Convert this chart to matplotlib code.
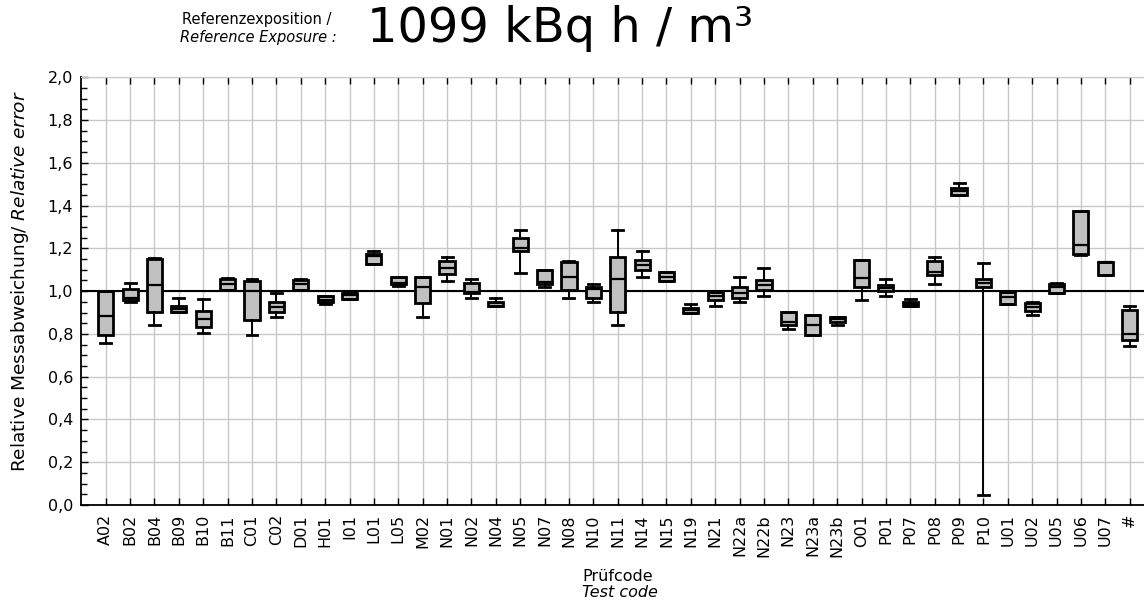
import matplotlib
matplotlib.use('Agg')
import matplotlib.pyplot as plt
from matplotlib.ticker import MultipleLocator, FixedLocator

plt.rcParams['font.family'] = ['DejaVu Sans']
plt.rcParams['mathtext.fontset'] = 'custom'
plt.rcParams['mathtext.rm'] = 'DejaVu Sans'
plt.rcParams['mathtext.it'] = 'DejaVu Sans:italic'

# box statistics
codes = ["A02", "B02", "B04", "B09", "B10", "B11", "C01", "C02", "D01", "H01",
         "I01", "L01", "L05", "M02", "N01", "N02", "N04", "N05", "N07", "N08",
         "N10", "N11", "N14", "N15", "N19", "N21", "N22a", "N22b", "N23", "N23a",
         "N23b", "O01", "P01", "P07", "P08", "P09", "P10", "U01", "U02", "U05",
         "U06", "U07", "#"]
whislo = [0.759, 0.948, 0.840, 0.901, 0.802, 1.005, 0.793, 0.881, 1.005, 0.941,
          0.961, 1.128, 1.026, 0.881, 1.049, 0.969, 0.932, 1.086, 1.019, 0.969,
          0.948, 0.840, 1.066, 1.048, 0.900, 0.931, 0.948, 0.977, 0.821, 0.796,
          0.840, 0.960, 0.978, 0.932, 1.035, 1.451, 0.045, 0.938, 0.889, 0.992,
          1.168, 1.077, 0.742]
q1 = [0.793, 0.957, 0.901, 0.901, 0.830, 1.005, 0.867, 0.901, 1.005, 0.948,
      0.961, 1.128, 1.035, 0.946, 1.079, 0.989, 0.932, 1.187, 1.035, 1.005,
      0.969, 0.901, 1.100, 1.048, 0.900, 0.958, 0.969, 1.006, 0.840, 0.796,
      0.855, 1.019, 1.000, 0.932, 1.077, 1.451, 1.019, 0.938, 0.909, 0.992,
      1.174, 1.077, 0.772]
med = [0.883, 0.967, 1.029, 0.915, 0.869, 1.035, 1.000, 0.927, 1.032, 0.958,
       0.980, 1.164, 1.040, 1.019, 1.108, 0.995, 0.943, 1.202, 1.043, 1.066,
       1.008, 1.057, 1.123, 1.068, 0.912, 0.977, 0.992, 1.031, 0.858, 0.843,
       0.870, 1.063, 1.014, 0.941, 1.090, 1.470, 1.039, 0.974, 0.927, 1.020,
       1.218, 1.134, 0.801]
q3 = [1.000, 1.009, 1.148, 0.932, 0.909, 1.057, 1.049, 0.948, 1.051, 0.977,
      0.991, 1.174, 1.066, 1.066, 1.140, 1.037, 0.951, 1.247, 1.100, 1.136,
      1.019, 1.159, 1.147, 1.088, 0.920, 0.995, 1.020, 1.051, 0.901, 0.889,
      0.881, 1.144, 1.028, 0.951, 1.139, 1.483, 1.059, 0.994, 0.943, 1.035,
      1.377, 1.137, 0.910]
whishi = [1.000, 1.037, 1.157, 0.969, 0.961, 1.060, 1.057, 0.992, 1.057, 0.977,
          0.991, 1.188, 1.066, 1.066, 1.159, 1.057, 0.969, 1.284, 1.100, 1.139,
          1.034, 1.284, 1.188, 1.088, 0.940, 0.995, 1.066, 1.108, 0.901, 0.889,
          0.881, 1.147, 1.059, 0.961, 1.159, 1.505, 1.130, 0.994, 0.951, 1.038,
          1.377, 1.137, 0.932]

stats = []
for i, c in enumerate(codes):
    stats.append({'label': c, 'whislo': whislo[i], 'q1': q1[i], 'med': med[i],
                  'q3': q3[i], 'whishi': whishi[i], 'fliers': []})

fig = plt.figure(figsize=(11.44, 6.08), dpi=100)
ax = fig.add_axes([0.0711, 0.1694, 0.9377, 0.7035])

positions = list(range(1, len(codes) + 1))
ax.bxp(stats, positions=positions, widths=0.62, patch_artist=True,
       showfliers=False, capwidths=0.45,
       boxprops=dict(facecolor='#c0c0c0', edgecolor='black', linewidth=2.0),
       medianprops=dict(color='black', linewidth=1.6),
       whiskerprops=dict(color='black', linewidth=1.4),
       capprops=dict(color='black', linewidth=2.0),
       zorder=3)

ax.axhline(1.0, color='black', linewidth=1.5, zorder=2)

ax.set_xlim(0, 44)
ax.set_ylim(0, 2.0)
ax.xaxis.set_major_locator(FixedLocator(positions))
ax.set_xticklabels(codes, rotation=90, fontsize=11.5)
ax.yaxis.set_major_locator(MultipleLocator(0.2))
ax.yaxis.set_minor_locator(MultipleLocator(0.05))
ax.set_yticklabels([f"{v:.1f}".replace('.', ',') for v in ax.get_yticks()], fontsize=11.5)

ax.grid(True, which='major', color='#c8c8c8', linewidth=1.0, zorder=0)
ax.set_axisbelow(True)
ax.tick_params(axis='y', which='major', direction='in', length=5, width=1, pad=6)
ax.tick_params(axis='y', which='minor', direction='in', length=4, width=1)
ax.tick_params(axis='x', which='major', direction='in', length=5, width=1,
               top=True, pad=6.5)
ax.spines['right'].set_visible(False)
ax.spines['top'].set_color('#c8c8c8')
ax.spines['left'].set_linewidth(1.3)
ax.spines['bottom'].set_linewidth(1.3)

ax.set_ylabel(r"Relative Messabweichung/ $\it{Relative\ error}$", fontsize=13.3)
ax.yaxis.set_label_coords(-0.047, 0.523)

fig.text(0.540, 0.052, "Prüfcode", ha='center', va='center', fontsize=11.5)
fig.text(0.542, 0.025, "Test code", ha='center', va='center', fontsize=11.5,
         style='italic')

fig.text(0.224, 0.968, "Referenzexposition /", ha='center', va='center', fontsize=10.5)
fig.text(0.226, 0.938, "Reference Exposure :", ha='center', va='center', fontsize=10.5,
         style='italic')
fig.text(0.321, 0.953, "1099 kBq h / m³", ha='left', va='center', fontsize=34.5)

fig.savefig("out.png", dpi=100)
